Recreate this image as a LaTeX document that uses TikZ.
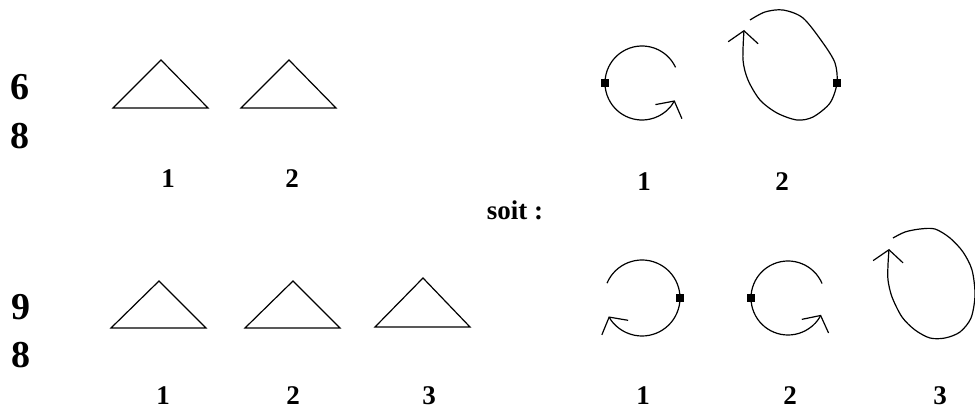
\documentclass[tikz,border=0pt]{standalone}
\usepackage{fontspec}
\setmainfont{Liberation Serif}
\usetikzlibrary{arrows.meta}

\begin{document}
\begin{tikzpicture}[x=1pt, y=-1pt, line width=1.2pt,
  lbl/.style={font=\fontsize{27}{30}\selectfont\bfseries},
  bignum/.style={font=\fontsize{38}{42}\selectfont\bfseries},
  dot/.style={fill=black, inner sep=0pt, minimum size=8pt},
  turn/.style={-{Straight Barb[length=12pt, width=30pt]}}]
\useasboundingbox (0,0) rectangle (975,411);

% measures
\node (six) [bignum] at (20,87) {6};
\node (eightA) [bignum] at (20,136) {8};
\node (nine) [bignum] at (21,307) {9};
\node (eightB) [bignum] at (21,355) {8};

% triangles, first line
\draw (113,108) -- (161,60) -- (208,108) -- cycle;
\draw (241,108) -- (289,60) -- (336,108) -- cycle;
\node (tl1) [lbl] at (168,179) {1};
\node (tl2) [lbl] at (292,179) {2};

% triangles, second line
\draw (111,328) -- (159,281) -- (206,328) -- cycle;
\draw (245,328) -- (293,281) -- (340,328) -- cycle;
\draw (375,327) -- (423,278) -- (470,327) -- cycle;
\node (bl1) [lbl] at (163,396) {1};
\node (bl2) [lbl] at (293,396) {2};
\node (bl3) [lbl] at (429,396) {3};

\node (soit) [lbl] at (515,210) {soit :};

% turns, first line
\coordinate (c1) at (642,83);
\draw[turn] ([shift={(-25:37)}]c1) arc[start angle=-25, end angle=-332, radius=37];
\node (d1) [dot] at (605,83) {};
\draw[turn] plot[smooth] coordinates {(750,20) (765,12) (783,10) (803,18) (823,43)
  (835,63) (837,83) (830,103) (813,117) (797,120) (777,113) (760,100) (748,80)
  (743,60) (744,30)};
\node (d2) [dot] at (837,83) {};
\node (tr1) [lbl] at (644,182) {1};
\node (tr2) [lbl] at (782,182) {2};

% turns, second line
\coordinate (c3) at (642,298);
\draw[turn] ([shift={(203:38)}]c3) arc[start angle=203, end angle=511, radius=38];
\node (d3) [dot] at (680,298) {};
\coordinate (c4) at (788,298);
\draw[turn] ([shift={(-23:37)}]c4) arc[start angle=-23, end angle=-333, radius=37];
\node (d4) [dot] at (751,298) {};
\draw[turn] plot[smooth] coordinates {(893,238) (905,232) (920,229) (935,229)
  (950,238) (963,252) (972,270) (975,295) (971,318) (960,332) (945,338) (930,338)
  (915,330) (902,317) (892,297) (888,280) (888,265) (889,249)};
\node (br1) [lbl] at (643,396) {1};
\node (br2) [lbl] at (790,396) {2};
\node (br3) [lbl] at (940,396) {3};
\end{tikzpicture}
\end{document}
